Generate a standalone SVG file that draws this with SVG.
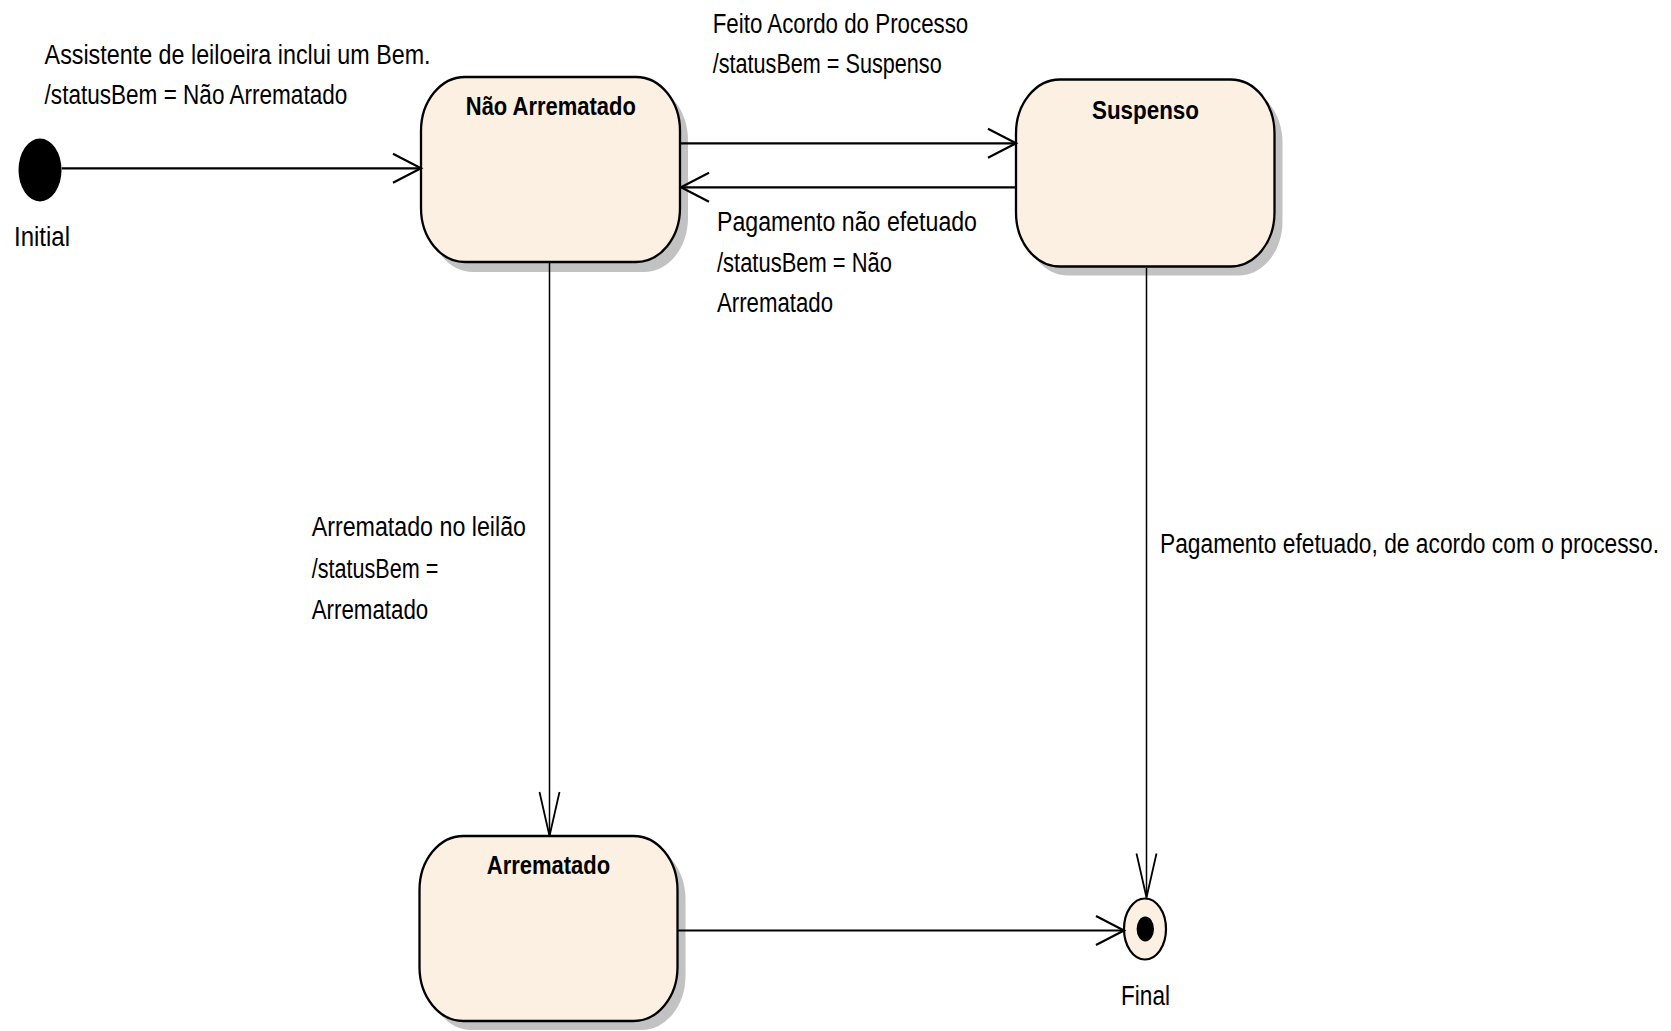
<svg xmlns="http://www.w3.org/2000/svg" width="1671" height="1031" viewBox="0 0 1671 1031">
<style>
  .state { fill: #FBF0E2; stroke: #000; stroke-width: 2.3; }
  .shadow { fill: #C2C2C2; stroke: none; }
  .title { font-family: "Liberation Sans Narrow", "Liberation Sans", Arial, sans-serif; font-weight: bold; font-size: 26px; fill: #000; text-anchor: middle; }
  .lbl { font-family: "Liberation Sans Narrow", "Liberation Sans", Arial, sans-serif; font-size: 27px; fill: #000; }
  .h { fill: none; stroke: #000; stroke-width: 2.2; }
  .v { fill: none; stroke: #000; stroke-width: 1.5; }
</style>
<defs>
  <marker id="arrH" markerUnits="userSpaceOnUse" markerWidth="32" markerHeight="34" refX="29" refY="16" orient="auto" overflow="visible">
    <path d="M1,1.5 L29,16 L1,30.5" fill="none" stroke="#000" stroke-width="2.2"/>
  </marker>
  <marker id="arrV" markerUnits="userSpaceOnUse" markerWidth="48" markerHeight="24" refX="45" refY="11" orient="auto" overflow="visible">
    <path d="M1,1 L45,11 L1,21" fill="none" stroke="#000" stroke-width="1.8"/>
  </marker>
</defs>

<g id="initial">
  <ellipse cx="40" cy="170" rx="21.5" ry="31.5" fill="#000"/>
  <text class="lbl" x="14" y="246" textLength="56" lengthAdjust="spacingAndGlyphs">Initial</text>
</g>

<g id="nao-arrematado">
  <rect class="shadow" x="429" y="86" width="259" height="186" rx="44" ry="54"/>
  <rect class="state" x="421" y="77" width="259" height="185" rx="44" ry="54"/>
  <text class="title" x="550.8" y="115" textLength="170" lengthAdjust="spacingAndGlyphs">Não Arrematado</text>
</g>

<g id="suspenso">
  <rect class="shadow" x="1024" y="88.5" width="258.5" height="187" rx="44" ry="54"/>
  <rect class="state" x="1016" y="79.5" width="258.5" height="187" rx="44" ry="54"/>
  <text class="title" x="1145.5" y="119.3" textLength="107" lengthAdjust="spacingAndGlyphs">Suspenso</text>
</g>

<g id="arrematado">
  <rect class="shadow" x="427.5" y="845" width="258" height="185" rx="44" ry="54"/>
  <rect class="state" x="419.5" y="836" width="258" height="185" rx="44" ry="54"/>
  <text class="title" x="548.5" y="874.3" textLength="123.3" lengthAdjust="spacingAndGlyphs">Arrematado</text>
</g>

<g id="final">
  <ellipse cx="1145" cy="929" rx="21" ry="30.5" fill="#FBF0E2" stroke="#000" stroke-width="2.2"/>
  <ellipse cx="1145.3" cy="929" rx="8.7" ry="12.5" fill="#000"/>
  <text class="lbl" x="1121" y="1005" textLength="49" lengthAdjust="spacingAndGlyphs">Final</text>
</g>

<g id="connectors">
  <path class="h" d="M61.7,168.3 L421,168.3" marker-end="url(#arrH)"/>
  <path class="h" d="M680,143.3 L1016,143.3" marker-end="url(#arrH)"/>
  <path class="h" d="M1016,187.3 L681,187.3" marker-end="url(#arrH)"/>
  <path class="v" d="M549.5,263 L549.5,836" marker-end="url(#arrV)"/>
  <path class="v" d="M1146.5,268 L1146.5,897.5" marker-end="url(#arrV)"/>
  <path class="h" d="M678,930.5 L1124,930.5" marker-end="url(#arrH)"/>
</g>

<g id="labels">
  <text class="lbl" x="44.6" y="64" textLength="386" lengthAdjust="spacingAndGlyphs">Assistente de leiloeira inclui um Bem.</text>
  <text class="lbl" x="44.6" y="104" textLength="302.7" lengthAdjust="spacingAndGlyphs">/statusBem = Não Arrematado</text>
  <text class="lbl" x="712.7" y="32.7" textLength="255.6" lengthAdjust="spacingAndGlyphs">Feito Acordo do Processo</text>
  <text class="lbl" x="712.7" y="72.7" textLength="229" lengthAdjust="spacingAndGlyphs">/statusBem = Suspenso</text>
  <text class="lbl" x="717" y="231" textLength="260" lengthAdjust="spacingAndGlyphs">Pagamento não efetuado</text>
  <text class="lbl" x="717" y="272" textLength="175" lengthAdjust="spacingAndGlyphs">/statusBem = Não</text>
  <text class="lbl" x="717" y="312" textLength="116" lengthAdjust="spacingAndGlyphs">Arrematado</text>
  <text class="lbl" x="311.7" y="536" textLength="214.3" lengthAdjust="spacingAndGlyphs">Arrematado no leilão</text>
  <text class="lbl" x="311.7" y="577.5" textLength="126.6" lengthAdjust="spacingAndGlyphs">/statusBem =</text>
  <text class="lbl" x="311.7" y="619" textLength="116.6" lengthAdjust="spacingAndGlyphs">Arrematado</text>
  <text class="lbl" x="1160" y="553" textLength="499" lengthAdjust="spacingAndGlyphs">Pagamento efetuado, de acordo com o processo.</text>
</g>
</svg>
